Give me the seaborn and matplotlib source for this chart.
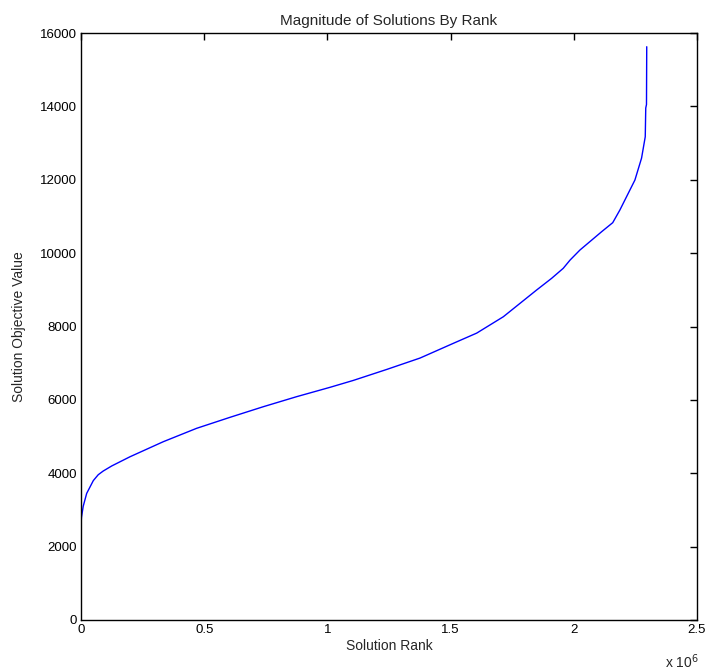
import matplotlib
matplotlib.use("Agg")
import matplotlib.pyplot as plt
import seaborn as sns
import pandas as pd

# Solution rank (in millions) and objective value
rank_millions = [0.0, 0.002, 0.009, 0.023, 0.050, 0.070, 0.090, 0.125, 0.199, 0.334,
                 0.469, 0.605, 0.740, 0.875, 1.011, 1.105, 1.241, 1.376, 1.511, 1.606,
                 1.714, 1.849, 1.910, 1.957, 1.985, 2.025, 2.073, 2.113, 2.158, 2.187,
                 2.248, 2.275, 2.290, 2.292, 2.295, 2.296]
objective_value = [2600, 2800, 3100, 3450, 3800, 3960, 4060, 4200, 4450, 4860,
                   5224, 5525, 5814, 6087, 6343, 6530, 6830, 7140, 7541, 7820,
                   8266, 8994, 9313, 9585, 9812, 10085, 10357, 10584, 10830, 11175,
                   11992, 12590, 13173, 13955, 14050, 15626]

x_ticks = [0, 0.5, 1, 1.5, 2, 2.5]
x_tick_labels = ["0", "0.5", "1", "1.5", "2", "2.5"]
y_ticks = [0, 2000, 4000, 6000, 8000, 10000, 12000, 14000, 16000]

sns.set_style("white")
plt.rcParams["font.family"] = ["Liberation Sans", "DejaVu Sans"]

df = pd.DataFrame({"rank": rank_millions, "value": objective_value})

fig = plt.figure(figsize=(7.05, 6.72), dpi=100)
ax = fig.add_axes([81 / 705, 52 / 672, 616 / 705, 587 / 672])
sns.lineplot(data=df, x="rank", y="value", ax=ax, color="#0000ff", linewidth=1.0,
             sort=False, estimator=None)

ax.set_xlim(0, 2.5)
ax.set_ylim(0, 16000)
ax.set_xticks(x_ticks)
ax.set_xticklabels(x_tick_labels)
ax.set_yticks(y_ticks)
ax.set_yticklabels([str(v) for v in y_ticks])
ax.tick_params(direction="in", length=5, width=1, top=True, right=True,
               labelsize=9.5, colors="black", pad=3)
for s in ax.spines.values():
    s.set_color("black")
    s.set_linewidth(1.0)

ax.set_title("Magnitude of Solutions By Rank", fontsize=11, pad=6)
ax.set_xlabel("Solution Rank", fontsize=10, labelpad=2)
ax.set_ylabel("Solution Objective Value", fontsize=10, labelpad=10)
fig.text(682 / 705, 1 - 662 / 672, r"x 10$^6$", fontsize=10, ha="center", va="center")

fig.savefig("out.png", dpi=100, facecolor="white")
